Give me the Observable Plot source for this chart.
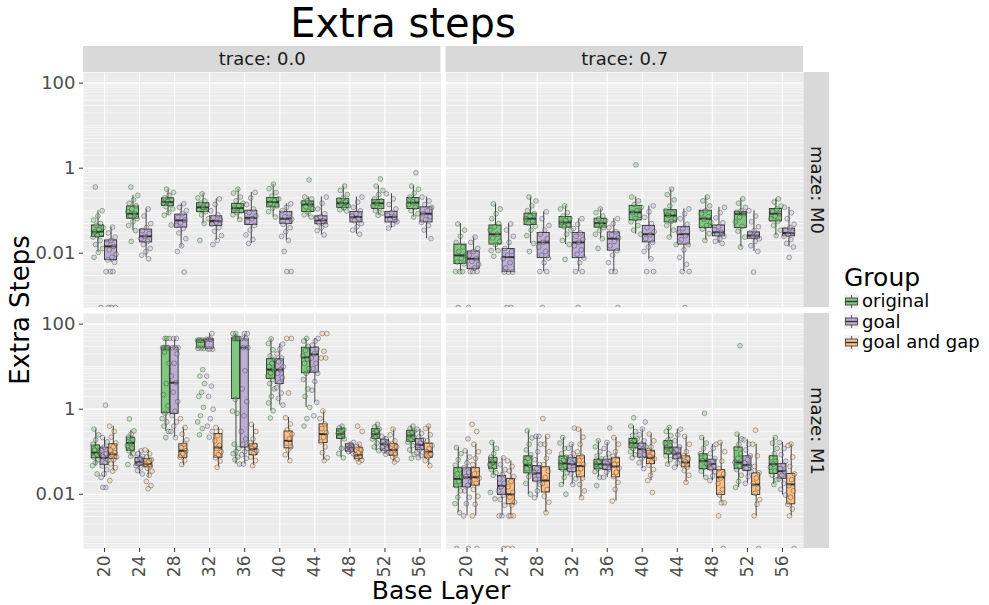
<!DOCTYPE html>
<html><head><meta charset="utf-8">
<script src="https://cdn.jsdelivr.net/npm/d3@7"></script>
<script src="https://cdn.jsdelivr.net/npm/@observablehq/plot@0.6"></script>
<style>
body{margin:0;background:#fff;font-family:"DejaVu Sans",sans-serif;}
#wrap{position:relative;width:989px;height:605px;overflow:hidden;}
#title{position:absolute;left:0;top:3px;width:806px;text-align:center;font-size:40px;line-height:40px;color:#000;}
#chart{position:absolute;left:0;top:44px;}
#ylab{position:absolute;left:20px;top:310px;transform:translate(-50%,-50%) rotate(-90deg);font-size:26px;line-height:28px;white-space:nowrap;color:#000;}
#xlab{position:absolute;left:441px;top:590px;transform:translate(-50%,-50%);font-size:25px;line-height:25px;white-space:nowrap;color:#000;}
#legend{position:absolute;left:844px;top:264px;color:#000;}
#legend .lt{font-size:25px;line-height:27px;}
#legend .li{display:flex;align-items:center;height:20.5px;font-size:18px;line-height:20px;}
#legend svg{margin-right:3px;}
</style></head>
<body><div id="wrap">
<div id="title">Extra steps</div>
<div id="chart"></div>
<div id="ylab">Extra Steps</div>
<div id="xlab">Base Layer</div>
<div id="legend"></div>
</div>
<script>
const layers = [20, 24, 28, 32, 36, 40, 44, 48, 52, 56];
const groups = ["original", "goal", "goal and gap"];
const groupColors = ["#7fc97f", "#beaed4", "#fdc086"];
const traces = ["0.0", "0.7"];
const mazes = ["M0", "M1"];
const yTicks = [0.01, 1, 100];

// box stats: [layer, group index, whiskerLow, q1, median, q3, whiskerHigh]
const boxesT00M0 = [
  [20,0, 0.0105,0.024,0.032,0.045,0.10], [20,1, 0.0061,0.0069,0.0145,0.020,0.041],
  [24,0, 0.034,0.065,0.085,0.126,0.23], [24,1, 0.008,0.018,0.025,0.036,0.11],
  [28,0, 0.078,0.13,0.16,0.195,0.32], [28,1, 0.014,0.040,0.059,0.081,0.145],
  [32,0, 0.049,0.093,0.12,0.15,0.25], [32,1, 0.02,0.044,0.057,0.074,0.19],
  [36,0, 0.062,0.088,0.115,0.145,0.32], [36,1, 0.017,0.046,0.068,0.10,0.27],
  [40,0, 0.071,0.12,0.16,0.20,0.42], [40,1, 0.02,0.049,0.065,0.094,0.145],
  [44,0, 0.071,0.093,0.14,0.165,0.21], [44,1, 0.027,0.048,0.059,0.074,0.21],
  [48,0, 0.098,0.117,0.15,0.19,0.38], [48,1, 0.028,0.053,0.071,0.094,0.21],
  [52,0, 0.078,0.11,0.15,0.18,0.38], [52,1, 0.039,0.053,0.071,0.094,0.25],
  [56,0, 0.071,0.11,0.155,0.20,0.38], [56,1, 0.022,0.053,0.085,0.12,0.21]
];
const boxesT07M0 = [
  [20,0, 0.0037,0.0056,0.0089,0.016,0.049], [20,1, 0.0037,0.0043,0.0074,0.011,0.024],
  [24,0, 0.0115,0.016,0.028,0.045,0.145], [24,1, 0.0036,0.0036,0.0081,0.0126,0.049],
  [28,0, 0.017,0.046,0.065,0.085,0.21], [28,1, 0.0037,0.0077,0.018,0.030,0.094],
  [32,0, 0.016,0.040,0.053,0.071,0.13], [32,1, 0.0037,0.0077,0.018,0.030,0.065],
  [36,0, 0.022,0.040,0.051,0.065,0.11], [36,1, 0.0037,0.0115,0.022,0.031,0.065],
  [40,0, 0.028,0.059,0.092,0.13,0.21], [40,1, 0.0074,0.018,0.028,0.044,0.13],
  [44,0, 0.024,0.053,0.077,0.103,0.32], [44,1, 0.0037,0.016,0.028,0.041,0.11],
  [48,0, 0.02,0.039,0.065,0.10,0.21], [48,1, 0.017,0.025,0.031,0.045,0.12],
  [52,0, 0.014,0.039,0.085,0.094,0.19], [52,1, 0.011,0.022,0.026,0.031,0.10],
  [56,0, 0.026,0.056,0.085,0.11,0.19], [56,1, 0.014,0.025,0.030,0.038,0.12]
];
const boxesT00M1 = [
  [20,0, 0.047,0.07,0.095,0.14,0.34], [20,1, 0.025,0.049,0.072,0.125,0.215], [20,2, 0.035,0.067,0.087,0.15,0.40],
  [24,0, 0.078,0.105,0.16,0.215,0.31], [24,1, 0.030,0.047,0.057,0.072,0.105], [24,2, 0.025,0.043,0.051,0.067,0.11],
  [28,0, 0.3,0.8,28,28,46], [28,1, 0.215,0.78,4.2,28,46], [28,2, 0.047,0.072,0.105,0.15,0.37],
  [32,0, 27,27,42,42,42], [32,1, 26,26,44,44,60], [32,2, 0.043,0.072,0.125,0.26,0.37],
  [36,0, 0.051,1.73,46,46,60], [36,1, 0.051,0.125,28,44,58], [36,2, 0.047,0.083,0.115,0.15,0.44],
  [40,0, 0.92,5.1,8.5,15,45], [40,1, 1.25,3.9,8.5,15,34], [40,2, 0.062,0.12,0.18,0.30,0.63],
  [44,0, 1.1,7,16.5,28,46], [44,1, 1.45,7.2,19.5,28,46], [44,2, 0.062,0.16,0.26,0.44,0.91],
  [48,0, 0.072,0.20,0.26,0.34,0.40], [48,1, 0.087,0.10,0.125,0.15,0.165], [48,2, 0.057,0.067,0.083,0.125,0.15],
  [52,0, 0.105,0.20,0.26,0.34,0.44], [52,1, 0.087,0.105,0.15,0.19,0.23], [52,2, 0.057,0.08,0.11,0.15,0.34],
  [56,0, 0.087,0.17,0.24,0.31,0.40], [56,1, 0.072,0.11,0.145,0.20,0.34], [56,2, 0.047,0.072,0.10,0.155,0.40]
];
const boxesT07M1 = [
  [20,0, 0.0037,0.0145,0.023,0.041,0.125], [20,1, 0.0031,0.0145,0.025,0.041,0.105], [20,2, 0.0031,0.016,0.025,0.041,0.15],
  [24,0, 0.028,0.039,0.056,0.072,0.165], [24,1, 0.0031,0.0096,0.0157,0.027,0.072], [24,2, 0.0031,0.0058,0.010,0.023,0.061],
  [28,0, 0.010,0.031,0.048,0.078,0.31], [28,1, 0.0083,0.020,0.031,0.046,0.23], [28,2, 0.0037,0.011,0.021,0.043,0.23],
  [32,0, 0.017,0.037,0.053,0.077,0.215], [32,1, 0.017,0.033,0.051,0.072,0.15], [32,2, 0.0083,0.025,0.046,0.078,0.34],
  [36,0, 0.025,0.039,0.051,0.065,0.18], [36,1, 0.025,0.037,0.05,0.065,0.165], [36,2, 0.0069,0.025,0.045,0.072,0.215],
  [40,0, 0.072,0.12,0.16,0.20,0.40], [40,1, 0.04,0.072,0.115,0.155,0.34], [40,2, 0.021,0.051,0.072,0.105,0.26],
  [44,0, 0.051,0.087,0.125,0.18,0.37], [44,1, 0.043,0.067,0.09,0.125,0.34], [44,2, 0.019,0.043,0.056,0.078,0.23],
  [48,0, 0.025,0.039,0.061,0.087,0.215], [48,1, 0.021,0.037,0.051,0.065,0.15], [48,2, 0.0063,0.0096,0.025,0.037,0.165],
  [52,0, 0.0145,0.039,0.056,0.125,0.26], [52,1, 0.018,0.035,0.049,0.078,0.19], [52,2, 0.0031,0.0096,0.017,0.031,0.15],
  [56,0, 0.017,0.03,0.051,0.078,0.215], [56,1, 0.0096,0.023,0.035,0.051,0.165], [56,2, 0.0031,0.0058,0.017,0.030,0.15]
];

// individual runs: [layer, group index, ...values]  (0 = no extra steps, drawn at the panel floor)
const pointsT00M0 = [
  [20,0, 0.36,0.10,0.075,0.06,0.05,0.045,0.04,0.036,0.032,0.029,0.026,0.024,0.02,0.016,0.013,0.0105,0.008,0],
  [20,1, 0.041,0.03,0.024,0.02,0.017,0.0145,0.012,0.0095,0.008,0.007,0.0061,0.0037,0.0037,0.0037,0,0,0],
  [24,0, 0.36,0.23,0.18,0.15,0.13,0.11,0.095,0.085,0.075,0.065,0.055,0.045,0.034,0.019],
  [24,1, 0.11,0.075,0.05,0.04,0.034,0.029,0.025,0.022,0.019,0.016,0.013,0.011,0.009,0.0074],
  [28,0, 0.32,0.27,0.23,0.2,0.18,0.165,0.15,0.14,0.125,0.11,0.09,0.078,0.046],
  [28,1, 0.145,0.12,0.1,0.085,0.07,0.06,0.052,0.045,0.038,0.03,0.022,0.015,0.011,0.0036],
  [32,0, 0.25,0.2,0.17,0.15,0.135,0.12,0.105,0.095,0.08,0.065,0.05,0.02],
  [32,1, 0.19,0.14,0.1,0.08,0.07,0.06,0.054,0.048,0.04,0.033,0.026,0.02,0.016],
  [36,0, 0.32,0.26,0.21,0.17,0.15,0.13,0.115,0.1,0.09,0.08,0.062],
  [36,1, 0.27,0.2,0.14,0.11,0.09,0.075,0.065,0.055,0.045,0.035,0.027,0.021,0.017],
  [40,0, 0.42,0.33,0.27,0.22,0.19,0.17,0.15,0.13,0.115,0.095,0.071],
  [40,1, 0.145,0.12,0.1,0.085,0.072,0.063,0.055,0.048,0.04,0.032,0.025,0.02,0.011,0.0037,0.0037],
  [44,0, 0.53,0.21,0.19,0.17,0.155,0.14,0.125,0.11,0.095,0.08,0.071],
  [44,1, 0.21,0.15,0.11,0.085,0.072,0.065,0.058,0.052,0.046,0.04,0.034,0.027],
  [48,0, 0.38,0.3,0.24,0.2,0.18,0.16,0.145,0.13,0.118,0.105,0.098],
  [48,1, 0.21,0.16,0.12,0.1,0.085,0.075,0.066,0.058,0.05,0.042,0.035,0.028],
  [52,0, 0.56,0.38,0.3,0.24,0.19,0.17,0.15,0.13,0.115,0.1,0.088,0.078],
  [52,1, 0.25,0.19,0.14,0.11,0.09,0.078,0.07,0.062,0.055,0.048,0.039],
  [56,0, 0.78,0.38,0.32,0.26,0.21,0.18,0.16,0.14,0.12,0.1,0.085,0.071],
  [56,1, 0.21,0.17,0.14,0.12,0.1,0.085,0.072,0.062,0.053,0.045,0.035,0.022]
];
const pointsT07M0 = [
  [20,0, 0.049,0.035,0.025,0.018,0.014,0.011,0.009,0.0075,0.0062,0.0056,0.0037,0.0037,0.0037,0],
  [20,1, 0.024,0.018,0.013,0.011,0.009,0.0075,0.0065,0.0055,0.0045,0.0037,0.0037,0.0037,0],
  [24,0, 0.145,0.11,0.085,0.065,0.05,0.042,0.035,0.028,0.023,0.019,0.016,0.0115,0.0115,0.0085],
  [24,1, 0.049,0.035,0.025,0.018,0.013,0.011,0.009,0.0075,0.006,0.0045,0.0036,0.0036,0.0036,0,0],
  [28,0, 0.21,0.17,0.13,0.1,0.085,0.074,0.065,0.057,0.05,0.043,0.035,0.026,0.017,0.011],
  [28,1, 0.094,0.065,0.045,0.035,0.028,0.022,0.018,0.014,0.011,0.009,0.0077,0.006,0.0037,0.0037,0],
  [32,0, 0.13,0.11,0.09,0.075,0.065,0.058,0.053,0.047,0.042,0.035,0.028,0.02,0.016,0.0072],
  [32,1, 0.065,0.048,0.038,0.03,0.025,0.021,0.018,0.015,0.012,0.0095,0.0077,0.006,0.0037,0.0037,0],
  [36,0, 0.11,0.09,0.075,0.065,0.058,0.051,0.046,0.04,0.034,0.028,0.022,0.013],
  [36,1, 0.065,0.05,0.04,0.032,0.027,0.023,0.019,0.015,0.0115,0.009,0.006,0.0037,0.0037,0],
  [40,0, 1.2,0.21,0.17,0.14,0.12,0.1,0.09,0.078,0.066,0.055,0.045,0.035,0.028],
  [40,1, 0.13,0.095,0.07,0.05,0.04,0.032,0.027,0.022,0.018,0.014,0.011,0.0074,0.0037,0.0037],
  [44,0, 0.32,0.24,0.18,0.13,0.1,0.088,0.077,0.066,0.056,0.045,0.035,0.024,0.016],
  [44,1, 0.11,0.085,0.065,0.048,0.038,0.031,0.026,0.021,0.016,0.012,0.008,0.0055,0.0037,0.0037,0],
  [48,0, 0.21,0.17,0.13,0.1,0.085,0.072,0.063,0.054,0.045,0.037,0.029,0.02],
  [48,1, 0.12,0.09,0.068,0.052,0.042,0.036,0.031,0.028,0.025,0.022,0.019,0.017],
  [52,0, 0.19,0.15,0.12,0.1,0.092,0.085,0.07,0.055,0.043,0.033,0.024,0.014],
  [52,1, 0.10,0.075,0.055,0.042,0.034,0.03,0.027,0.025,0.022,0.019,0.015,0.011,0.0036],
  [56,0, 0.19,0.16,0.13,0.11,0.095,0.085,0.075,0.065,0.056,0.045,0.035,0.026],
  [56,1, 0.12,0.09,0.065,0.048,0.04,0.035,0.031,0.028,0.025,0.021,0.017,0.014,0.008]
];
const pointsT00M1 = [
  [20,0, 0.34,0.25,0.19,0.15,0.13,0.11,0.095,0.085,0.075,0.065,0.055,0.047,0.03],
  [20,1, 1.24,0.215,0.17,0.13,0.105,0.09,0.075,0.065,0.055,0.046,0.038,0.03,0.025,0.0145,0.0145],
  [20,2, 0.4,0.3,0.22,0.16,0.13,0.11,0.095,0.085,0.075,0.065,0.052,0.042,0.035,0.021],
  [24,0, 0.59,0.31,0.26,0.22,0.19,0.16,0.14,0.12,0.105,0.09,0.078,0.05],
  [24,1, 0.105,0.09,0.078,0.07,0.063,0.057,0.052,0.047,0.042,0.036,0.03],
  [24,2, 0.11,0.09,0.075,0.065,0.057,0.051,0.046,0.041,0.035,0.028,0.02,0.016,0.0135],
  [28,0, 46,46,46,28,28,28,28,28,22,12,4,2.2,1.2,0.8,0.6,0.5,0.4,0.3,0.215],
  [28,1, 46,46,28,28,28,20,12,6,4.2,2.5,1.5,0.9,0.7,0.5,0.4,0.3,0.215],
  [28,2, 0.6,0.37,0.26,0.19,0.15,0.125,0.105,0.09,0.075,0.062,0.05],
  [32,0, 42,42,42,42,27,27,27,8.5,6,4,2.5,2,1.1,0.7,0.5,0.35,0.25],
  [32,1, 60,44,44,44,26,26,26,6,3.5,2,1,0.6,0.4,0.3,0.22],
  [32,2, 0.37,0.3,0.24,0.18,0.14,0.12,0.1,0.085,0.072,0.06,0.043],
  [36,0, 60,60,46,46,46,46,46,46,1.7,0.9,0.8,0.15,0.12,0.1,0.09,0.075,0.065,0.051],
  [36,1, 60,60,46,46,28,28,8,3,1.5,0.7,0.3,0.2,0.15,0.12,0.1,0.085,0.07,0.051],
  [36,2, 0.44,0.3,0.2,0.16,0.14,0.12,0.105,0.09,0.075,0.062,0.047],
  [40,0, 45,35,25,18,15,12,10,8.5,7,6,5,4,3,2,1.4,0.92,0.62],
  [40,1, 34,26,20,16,13,10,8.5,7,5.5,4.2,3.2,2.4,1.8,1.25],
  [40,2, 46,46,2.4,0.63,0.45,0.33,0.26,0.2,0.16,0.13,0.11,0.085,0.062],
  [44,0, 46,40,30,24,18,15,12,9,7,5,3,2,1.1,0.6,0.4],
  [44,1, 46,40,32,26,20,16,12,9,7,4.5,2.8,1.45,0.7],
  [44,2, 60,60,23,16,16,0.91,0.6,0.45,0.35,0.28,0.22,0.17,0.13,0.095,0.072,0.062],
  [48,0, 0.4,0.36,0.33,0.3,0.27,0.25,0.23,0.2,0.12,0.09,0.072],
  [48,1, 0.165,0.15,0.14,0.13,0.125,0.12,0.11,0.1,0.09],
  [48,2, 0.4,0.3,0.15,0.13,0.11,0.095,0.085,0.078,0.07,0.063,0.057],
  [52,0, 0.44,0.38,0.34,0.3,0.27,0.25,0.22,0.2,0.16,0.13,0.105],
  [52,1, 0.23,0.2,0.18,0.16,0.15,0.13,0.115,0.105,0.095,0.087],
  [52,2, 0.34,0.25,0.18,0.15,0.13,0.11,0.095,0.085,0.075,0.065,0.057],
  [56,0, 0.4,0.35,0.31,0.28,0.25,0.22,0.19,0.17,0.14,0.11,0.087,0.07],
  [56,1, 0.34,0.27,0.22,0.19,0.16,0.14,0.125,0.11,0.095,0.08,0.072],
  [56,2, 0.4,0.35,0.25,0.18,0.14,0.12,0.1,0.088,0.075,0.062,0.047]
];
const pointsT07M1 = [
  [20,0, 0.125,0.09,0.065,0.048,0.038,0.03,0.025,0.02,0.016,0.012,0.0085,0.006,0.0037,0],
  [20,1, 0.2,0.105,0.075,0.055,0.042,0.033,0.026,0.02,0.016,0.012,0.0085,0.006,0.0031,0],
  [20,2, 0.44,0.3,0.15,0.1,0.07,0.05,0.038,0.03,0.024,0.018,0.013,0.009,0.0058,0.0031,0],
  [24,0, 0.165,0.12,0.09,0.075,0.065,0.056,0.05,0.044,0.038,0.032,0.028,0.011,0.0078],
  [24,1, 0.072,0.05,0.038,0.029,0.023,0.018,0.015,0.012,0.0095,0.0075,0.0055,0.0031,0.0031,0],
  [24,2, 0.061,0.045,0.035,0.026,0.02,0.015,0.011,0.0085,0.0065,0.0055,0.0031,0.0031,0.0031,0,0],
  [28,0, 0.31,0.21,0.15,0.11,0.085,0.07,0.058,0.048,0.04,0.033,0.026,0.018,0.01],
  [28,1, 0.23,0.23,0.15,0.1,0.065,0.05,0.04,0.033,0.028,0.022,0.017,0.012,0.0083],
  [28,2, 0.6,0.23,0.15,0.1,0.07,0.05,0.035,0.025,0.018,0.013,0.009,0.0065,0.0037],
  [32,0, 0.215,0.16,0.12,0.09,0.075,0.063,0.054,0.046,0.039,0.032,0.025,0.017,0.01],
  [32,1, 0.36,0.15,0.12,0.09,0.075,0.063,0.054,0.046,0.038,0.03,0.023,0.017],
  [32,2, 0.34,0.22,0.15,0.1,0.078,0.062,0.05,0.04,0.032,0.024,0.017,0.012,0.0083],
  [36,0, 0.18,0.13,0.1,0.08,0.068,0.058,0.051,0.045,0.04,0.034,0.025,0.016],
  [36,1, 0.36,0.165,0.12,0.09,0.07,0.06,0.052,0.045,0.039,0.033,0.025],
  [36,2, 0.215,0.15,0.1,0.078,0.062,0.05,0.041,0.033,0.026,0.019,0.013,0.0069],
  [40,0, 0.63,0.4,0.3,0.24,0.2,0.18,0.16,0.14,0.12,0.1,0.085,0.072],
  [40,1, 0.5,0.34,0.25,0.18,0.15,0.13,0.115,0.1,0.085,0.07,0.055,0.04],
  [40,2, 0.26,0.18,0.13,0.105,0.09,0.078,0.068,0.058,0.048,0.038,0.028,0.021,0.011],
  [44,0, 0.37,0.3,0.24,0.19,0.16,0.14,0.125,0.11,0.095,0.08,0.065,0.051],
  [44,1, 0.34,0.25,0.18,0.13,0.11,0.095,0.085,0.075,0.065,0.055,0.043],
  [44,2, 0.23,0.15,0.1,0.08,0.068,0.058,0.05,0.043,0.036,0.028,0.019],
  [48,0, 0.8,0.215,0.16,0.12,0.09,0.075,0.062,0.052,0.043,0.035,0.025],
  [48,1, 0.15,0.12,0.09,0.07,0.06,0.052,0.046,0.04,0.034,0.027,0.021],
  [48,2, 0.165,0.1,0.06,0.04,0.03,0.024,0.018,0.013,0.0096,0.0063,0.0063,0.0031,0],
  [52,0, 31,0.26,0.2,0.15,0.12,0.09,0.07,0.056,0.046,0.038,0.028,0.02,0.0145],
  [52,1, 0.19,0.15,0.11,0.08,0.065,0.055,0.048,0.041,0.034,0.026,0.018],
  [52,2, 0.32,0.15,0.08,0.045,0.032,0.024,0.018,0.014,0.0105,0.0075,0.0058,0.0031,0],
  [56,0, 0.215,0.16,0.12,0.09,0.072,0.06,0.051,0.043,0.035,0.028,0.022,0.017],
  [56,1, 0.165,0.12,0.085,0.06,0.048,0.04,0.034,0.028,0.023,0.018,0.013,0.0096],
  [56,2, 0.15,0.14,0.075,0.045,0.03,0.022,0.016,0.012,0.0085,0.0058,0.0045,0.0031,0]
];

const panels = [
  {trace: "0.0", maze: "M0", boxes: boxesT00M0, points: pointsT00M0},
  {trace: "0.7", maze: "M0", boxes: boxesT07M0, points: pointsT07M0},
  {trace: "0.0", maze: "M1", boxes: boxesT00M1, points: pointsT00M1},
  {trace: "0.7", maze: "M1", boxes: boxesT07M1, points: pointsT07M1}
];

// layout
const W = 830, H = 561;
const mL = 83, mR = 27, mT = 28, mB = 57;
const gapX = 5, gapY = 6;
const bandW = (W - mL - mR - gapX) / 2;
const bandH = (H - mT - mB - gapY) / 2;
const yMin = 0.00053, yMax = 178;
const dodge = 3, spacing = 4;

const boxRows = [], pointRows = [];
for (const p of panels) {
  const nG = new Set(p.boxes.map(b => b[1])).size;
  const slot = dodge / nG;
  const center = (layer, g) => layer - dodge / 2 + slot * (g + 0.5);
  for (const [layer, g, lo, q1, med, q3, hi] of p.boxes) {
    const cx = center(layer, g);
    boxRows.push({trace: p.trace, maze: p.maze, group: groups[g], cx,
      x1: cx - 0.46 * slot, x2: cx + 0.46 * slot, lo, q1, med, q3, hi});
  }
  for (const [layer, g, ...vals] of p.points) {
    const cx = center(layer, g);
    vals.forEach((v, j) => {
      const jit = ((j * 0.6180339887 + g * 0.37 + layer * 0.013) % 1) - 0.5;
      pointRows.push({trace: p.trace, maze: p.maze, group: groups[g], v,
        x: cx + jit * 0.85 * slot, y: v > 0 ? v : yMin});
    });
  }
}

const minorGrid = [];
for (let k = -4; k <= 2; k++) for (let d = 1; d <= 9; d++) {
  const v = d * Math.pow(10, k);
  if (v >= yMin && v <= yMax) minorGrid.push(v);
}
const topStrips = traces.map(t => ({trace: t, maze: "M0"}));
const rightStrips = mazes.map(m => ({trace: "0.7", maze: m}));
const F = {fx: "trace", fy: "maze"};

const chart = Plot.plot({
  width: W, height: H,
  marginLeft: mL, marginRight: mR, marginTop: mT, marginBottom: mB,
  style: {fontFamily: "DejaVu Sans, sans-serif", fontSize: "18px", background: "white", overflow: "visible"},
  fx: {domain: traces, paddingInner: gapX / (bandW + gapX), paddingOuter: 0, round: false, axis: null},
  fy: {domain: mazes, paddingInner: gapY / (bandH + gapY), paddingOuter: 0, round: false, axis: null},
  x: {domain: [layers[0] - 0.6 * spacing, layers[layers.length - 1] + 0.6 * spacing], axis: null},
  y: {type: "log", domain: [yMin, yMax], axis: null},
  color: {domain: groups, range: groupColors},
  marks: [
    Plot.frame({fill: "#ebebeb", stroke: null}),
    Plot.ruleY(minorGrid, {stroke: "white", strokeWidth: 0.6}),
    Plot.ruleY(yTicks, {stroke: "white", strokeWidth: 1.2}),
    Plot.ruleX(layers, {stroke: "white", strokeWidth: 1.2}),
    Plot.rect(topStrips, {...F, fill: "#d9d9d9", insetTop: -26, insetBottom: bandH}),
    Plot.text(topStrips, {...F, text: d => "trace: " + d.trace, frameAnchor: "top", lineAnchor: "middle", dy: -13, fontSize: 18, fill: "#1a1a1a"}),
    Plot.rect(rightStrips, {...F, fill: "#d9d9d9", insetLeft: bandW + 0.5, insetRight: -26}),
    Plot.text(rightStrips, {...F, text: d => "maze: " + d.maze, frameAnchor: "right", textAnchor: "middle", lineAnchor: "middle", dx: 13, rotate: 90, fontSize: 18, fill: "#1a1a1a"}),
    Plot.axisY({ticks: yTicks, tickFormat: d => String(d), tickSize: 4, tickPadding: 4, label: null, fontSize: 18, fill: "#4d4d4d", stroke: "#333"}),
    Plot.axisX({ticks: layers, tickFormat: d => String(d), tickRotate: -90, tickSize: 4, tickPadding: 3, label: null, fontSize: 17, fill: "#4d4d4d", stroke: "#333"}),
    Plot.ruleX(boxRows, {...F, x: "cx", y1: "lo", y2: "hi", stroke: "#333", strokeWidth: 0.9}),
    Plot.rect(boxRows, {...F, x1: "x1", x2: "x2", y1: "q1", y2: "q3", fill: "group", stroke: "#333", strokeWidth: 0.9}),
    Plot.ruleY(boxRows, {...F, x1: "x1", x2: "x2", y: "med", stroke: "#333", strokeWidth: 2}),
    Plot.dot(pointRows, {...F, x: "x", y: "y", r: 2.4, fill: "group", fillOpacity: 0.35, stroke: "#222", strokeOpacity: 0.5, strokeWidth: 0.7, clip: true})
  ]
});
document.getElementById("chart").appendChild(chart);

// legend
const leg = document.getElementById("legend");
leg.innerHTML = '<div class="lt">Group</div>' + groups.map((g, i) =>
  `<div class="li"><svg width="15" height="15"><rect x="0" y="0" width="15" height="15" fill="#f2f2f2"/>` +
  `<line x1="7.5" y1="1" x2="7.5" y2="14" stroke="#333" stroke-width="0.8"/>` +
  `<rect x="1.5" y="4" width="12" height="7" fill="${groupColors[i]}" stroke="#333" stroke-width="0.8"/>` +
  `<line x1="1.5" y1="7.5" x2="13.5" y2="7.5" stroke="#333" stroke-width="1.4"/></svg>${g}</div>`).join("");
</script>
</body></html>
